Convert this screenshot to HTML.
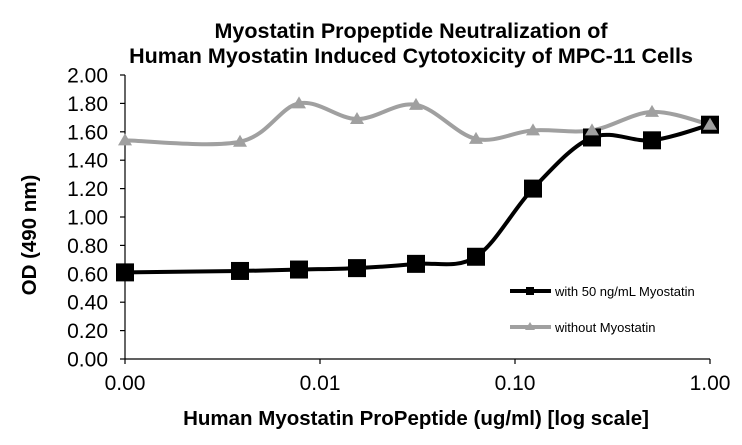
<!DOCTYPE html>
<html><head><style>body{margin:0;background:#fff}svg{display:block}</style></head><body>
<svg id="s" width="742" height="445" xmlns="http://www.w3.org/2000/svg" font-family="Liberation Sans, Arial, sans-serif">
<g font-weight="bold" font-size="21.5" text-anchor="middle" fill="#000">
<text x="411" y="38">Myostatin Propeptide Neutralization of</text>
<text x="411" y="63">Human Myostatin Induced Cytotoxicity of MPC-11 Cells</text>
<text x="416" y="425" font-size="20.5">Human Myostatin ProPeptide (ug/ml) [log scale]</text>
<text transform="translate(36,235) rotate(-90)" font-size="20.5">OD (490 nm)</text>
</g>
<g id="ax" stroke="#000" stroke-width="1.2"></g>
<g id="lab" font-size="21" fill="#000"></g>
<g id="ser"></g>
<g font-size="13" fill="#000">
<line x1="510" y1="291" x2="551" y2="291" stroke="#000" stroke-width="4"/><rect x="526" y="287" width="8" height="8" fill="#000"/>
<text x="555" y="296">with 50 ng/mL Myostatin</text>
<line x1="510" y1="327" x2="551" y2="327" stroke="#a0a0a0" stroke-width="4"/><polygon points="530,322 535,330 525,330" fill="#a0a0a0"/>
<text x="555" y="332">without Myostatin</text>
</g>
</svg>
<script>
var NS="http://www.w3.org/2000/svg";
function el(p,t,a){var e=document.createElementNS(NS,t);for(var k in a)e.setAttribute(k,a[k]);document.getElementById(p).appendChild(e);return e;}
var Y=v=>359-v*142;
el("ax","line",{x1:125,y1:Y(2),x2:125,y2:359});
el("ax","line",{x1:125,y1:359,x2:710,y2:359});
for(var i=0;i<=10;i++){var v=i*0.2,y=Y(v);el("ax","line",{x1:120,y1:y,x2:125,y2:y});
var t=el("lab","text",{x:108,y:y+7.5,"text-anchor":"end"});t.textContent=v.toFixed(2);}
[[125,"0.00"],[320,"0.01"],[515,"0.10"],[710,"1.00"]].forEach(function(a){el("ax","line",{x1:a[0],y1:359,x2:a[0],y2:364});var t=el("lab","text",{x:a[0],y:390,"text-anchor":"middle"});t.textContent=a[1];});
var xs=[125,240,299,357,416,476,533,592,652,710];
var b=[0.61,0.62,0.63,0.64,0.67,0.72,1.20,1.56,1.54,1.65];
var g=[1.54,1.53,1.80,1.69,1.79,1.55,1.61,1.61,1.74,1.65];
function path(vs){var p=xs.map((x,i)=>[x,Y(vs[i])]);var d="M"+p[0];for(var i=0;i<p.length-1;i++){var p0=p[i-1]||p[i],p1=p[i],p2=p[i+1],p3=p[i+2]||p2;var c1=[p1[0]+(p2[0]-p0[0])/6,p1[1]+(p2[1]-p0[1])/6],c2=[p2[0]-(p3[0]-p1[0])/6,p2[1]-(p3[1]-p1[1])/6];d+="C"+c1+" "+c2+" "+p2;}return d;}
el("ser","path",{d:path(g),fill:"none",stroke:"#a0a0a0","stroke-width":4});
el("ser","path",{d:path(b),fill:"none",stroke:"#000","stroke-width":4});
xs.forEach((x,i)=>{el("ser","rect",{x:x-9,y:Y(b[i])-9,width:18,height:18,fill:"#000"});});
xs.forEach((x,i)=>{var y=Y(g[i]);el("ser","polygon",{points:(x)+","+(y-7)+" "+(x+7)+","+(y+5)+" "+(x-7)+","+(y+5),fill:"#a0a0a0"});});
</script>
</body></html>
